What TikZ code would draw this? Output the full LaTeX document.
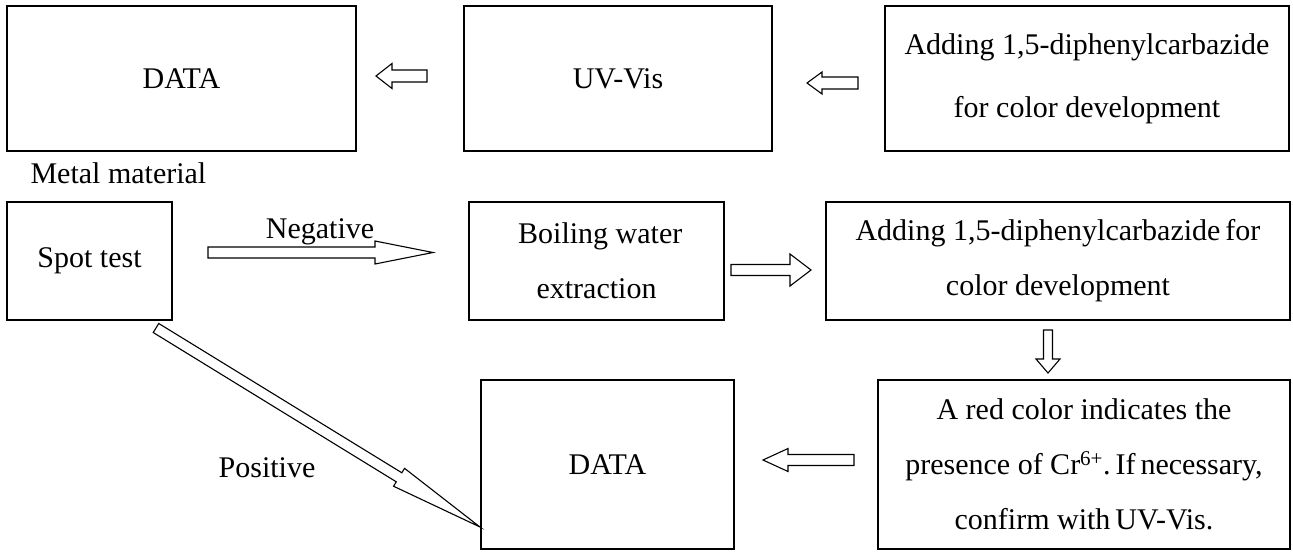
\documentclass[tikz,border=0pt]{standalone}
\usepackage{fontspec}
\setmainfont{Liberation Serif}
\usetikzlibrary{calc}
\newcommand\hollowarrow[5]{%
  \coordinate (hb) at ($(#2)!#5pt!(#1)$);
  \draw[arrowline] ($(#1)!#3pt!90:(#2)$) -- ($(hb)!#3pt!-90:(#1)$) -- ($(hb)!#4pt!-90:(#1)$)
    -- (#2) -- ($(hb)!#4pt!90:(#1)$) -- ($(hb)!#3pt!90:(#1)$) -- ($(#1)!#3pt!-90:(#2)$) -- cycle;}

\begin{document}
\begin{tikzpicture}[x=1pt,y=-1pt]
  \tikzset{every node/.style={font=\fontsize{30}{55}\selectfont},
    box/.style={draw,line width=1.2pt,inner sep=0pt,align=center},
    arrowline/.style={line width=1.1pt,fill=white,line join=miter}}
  \useasboundingbox (0,0) rectangle (1293,555);

  \node[box,minimum width=349,minimum height=145] (data1) at (181.5,78.5) {DATA};
  \node[box,minimum width=308,minimum height=145] (uvvis) at (618,78.5) {UV-Vis};
  \node[box,minimum width=404,minimum height=145,font=\fontsize{30}{63}\selectfont] (adding1) at (1087,78.5)
    {Adding 1,5-diphenylcarbazide\\for color development};

  \node[anchor=west] (metal) at (27,173) {Metal material};
  \node[box,minimum width=165,minimum height=118] (spot) at (89.5,261) {Spot test};
  \node[box,minimum width=255,minimum height=118] (boil) at (596.5,261)
    {\ Boiling water\\extraction};
  \node[box,minimum width=464,minimum height=118] (adding2) at (1058,261)
    {Adding 1,5-diphenylcarbazide\,for\\color development};

  \node[box,minimum width=253,minimum height=169] (data2) at (607.5,464.5) {DATA};
  \node[box,minimum width=412,minimum height=169] (redcolor) at (1084,464.5)
    {A red color indicates the\\presence of Cr\textsuperscript{6+}.\,If\,necessary,\\confirm with\,UV-Vis.};

  \coordinate (a1s) at (858,83);   \coordinate (a1e) at (807,83);
  \coordinate (a2s) at (427,76);   \coordinate (a2e) at (376,76);
  \coordinate (negs) at (208,252.5); \coordinate (nege) at (433,252.5);
  \coordinate (a3s) at (731,270);  \coordinate (a3e) at (811,270);
  \coordinate (a4s) at (1048,330); \coordinate (a4e) at (1048,373);
  \coordinate (a5s) at (854,460);  \coordinate (a5e) at (763,460);
  \coordinate (poss) at (156,328); \coordinate (pose) at (480,527);

  \hollowarrow{a1s}{a1e}{6}{11}{15}
  \hollowarrow{a2s}{a2e}{6}{12.5}{16}
  \hollowarrow{negs}{nege}{5.5}{11.5}{58}
  \hollowarrow{a3s}{a3e}{5.5}{16}{21}
  \hollowarrow{a4s}{a4e}{4.5}{12}{14}
  \hollowarrow{a5s}{a5e}{5.5}{11.5}{25}
  \hollowarrow{poss}{pose}{5.3}{10.5}{95}

  \node (neg) at (320,232) {Negative};
  \node (pos) at (267,468) {Positive};
\end{tikzpicture}
\end{document}
